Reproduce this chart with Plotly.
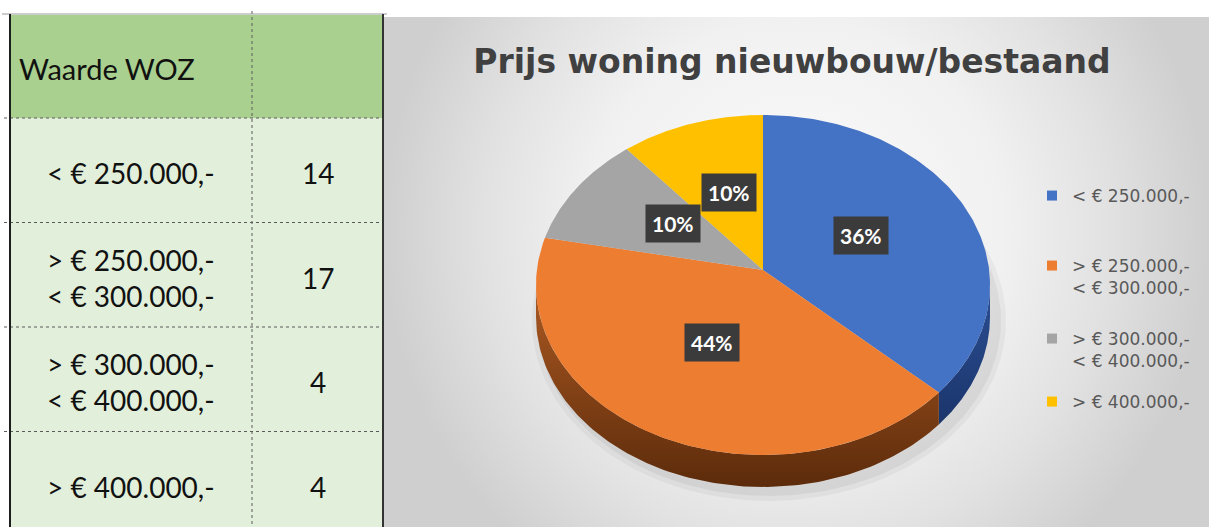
import numpy as np
import plotly.graph_objects as go

W, H = 1209, 527
OFF = 0                      # page margin removed through post_script below
FW, FH = W - OFF, H - OFF

# ---------------- data ----------------
table_header = ["Waarde WOZ", ""]
categories = [
    "< € 250.000,-",
    "> € 250.000,-<br>< € 300.000,-",
    "> € 300.000,-<br>< € 400.000,-",
    "> € 400.000,-",
]
counts = [14, 17, 4, 4]
slice_colors = ["#4472C4", "#ED7D31", "#A5A5A5", "#FFC000"]
side_colors = [["#2b4f93", "#14295a"], ["#ad5a22", "#5c2b0b"],
               ["#7b7b7b", "#505050"], ["#b48800", "#7a5c00"]]
title_text = "Prijs woning nieuwbouw/bestaand"

# ---------------- geometry / style ----------------
FONT = "Lato"
CHART_FONT = "DejaVu Sans"
TBL_L, TBL_R, TBL_MID, TBL_T = 10, 383, 252, 15
HEAD_H, ROW_H = 103, 104.5
CX, CY, RX, RY = 763, 285, 227, 170
APEX_Y = 270
DEPTH = 32
LBL_F = 0.48
BG_L, BG_T = 383, 17


def px(X):
    return (X - OFF) / FW


def py(Y):
    return 1 - (Y - OFF) / FH


def rim(t, dy=0.0):
    return CX + RX * np.sin(t), CY - RY * np.cos(t) + dy


fig = go.Figure()

# chart background with radial gradient (centre near the top middle)
GC_Y = 230
GR_Y = 420
fig.add_trace(go.Scatter(
    x=[BG_L, W, W, BG_L, BG_L], y=[GC_Y - GR_Y, GC_Y - GR_Y, GC_Y + GR_Y, GC_Y + GR_Y, GC_Y - GR_Y],
    mode="lines", fill="toself", line=dict(width=0),
    fillgradient=dict(type="radial",
                      colorscale=[[0, "#fbfbfb"], [0.5, "#f1f1f1"], [0.75, "#e2e2e2"], [1, "#cfcfcf"]]),
    hoverinfo="skip", showlegend=False))

# soft shadow under the pie
tt = np.linspace(0, 2 * np.pi, 200)
for grow, alpha in [(10, 0.04), (5, 0.05)]:
    sx = CX + 6 + (RX + grow) * np.sin(tt)
    sy = CY + DEPTH + 4 + (RY + grow) * np.cos(tt)
    fig.add_trace(go.Scatter(x=sx, y=sy, mode="lines", fill="toself", line=dict(width=0),
                             fillcolor=f"rgba(0,0,0,{alpha})", hoverinfo="skip", showlegend=False))

total = sum(counts)
fracs = [c / total for c in counts]
bounds = np.concatenate([[0], np.cumsum(fracs)]) * 2 * np.pi

# side walls (front half only)
for i in range(len(counts)):
    a = max(bounds[i], np.pi / 2)
    b = min(bounds[i + 1], 3 * np.pi / 2)
    if a >= b:
        continue
    ts = np.linspace(a, b, 120)
    x1, y1 = rim(ts)
    x2, y2 = rim(ts[::-1], DEPTH)
    xs = np.concatenate([x1, x2, x1[:1]])
    ys = np.concatenate([y1, y2, y1[:1]])
    fig.add_trace(go.Scatter(
        x=xs, y=ys, mode="lines", fill="toself", line=dict(width=0),
        fillgradient=dict(type="vertical", start=CY, stop=CY + RY + DEPTH,
                          colorscale=[[0, side_colors[i][0]], [1, side_colors[i][1]]]),
        hoverinfo="skip", showlegend=False))

# top faces
for i in range(len(counts)):
    ts = np.linspace(bounds[i], bounds[i + 1], 150)
    rx_, ry_ = rim(ts)
    xs = np.concatenate([[CX], rx_, [CX]])
    ys = np.concatenate([[APEX_Y], ry_, [APEX_Y]])
    fig.add_trace(go.Scatter(
        x=xs, y=ys, mode="lines", fill="toself", line=dict(width=0),
        fillcolor=slice_colors[i], hoverinfo="skip", showlegend=False))

annotations = []
# percentage labels
for i in range(len(counts)):
    m = (bounds[i] + bounds[i + 1]) / 2
    annotations.append(dict(
        x=CX + LBL_F * RX * np.sin(m), y=APEX_Y - LBL_F * RY * np.cos(m),
        xref="x", yref="y", showarrow=False,
        text=f"{round(fracs[i] * 100)}%",
        font=dict(family=FONT, size=21, color="white", weight="bold"),
        bgcolor="#3b3b3b", borderpad=6))

# legend entries, each in its own legend to mimic the spacing
legend_tops = [178, 248, 321, 384]
legend_names = ["legend", "legend2", "legend3", "legend4"]
for i, cat in enumerate(categories):
    fig.add_trace(go.Scatter(
        x=[None], y=[None], mode="markers", name=cat,
        marker=dict(symbol="square", size=10, color=slice_colors[i]),
        legend=legend_names[i], showlegend=True))

legend_style = dict(bgcolor="rgba(0,0,0,0)", font=dict(family=CHART_FONT, size=17, color="#595959"),
                    xanchor="left", yanchor="top", xref="paper", yref="paper",
                    valign="top", itemclick=False, itemdoubleclick=False)

# ---------------- table ----------------
shapes = []
n_rows = len(categories)
# white strip above the chart background
shapes.append(dict(type="rect", xref="x", yref="y", x0=BG_L, x1=W + 20, y0=-400, y1=BG_T,
                   fillcolor="white", line=dict(width=0), layer="above"))
shapes.append(dict(type="rect", xref="x", yref="y", x0=TBL_L, x1=TBL_R, y0=TBL_T, y1=TBL_T + HEAD_H,
                   fillcolor="#A9D08E", line=dict(width=0), layer="below"))
shapes.append(dict(type="rect", xref="x", yref="y", x0=TBL_L, x1=TBL_R, y0=TBL_T + HEAD_H, y1=H + 5,
                   fillcolor="#E2EFDA", line=dict(width=0), layer="below"))
for r in range(n_rows):
    yb = TBL_T + HEAD_H + r * ROW_H
    shapes.append(dict(type="line", xref="x", yref="y", x0=4, x1=TBL_R, y0=yb, y1=yb,
                       line=dict(color="#5a5a5a", width=1, dash="dot")))
shapes.append(dict(type="line", xref="x", yref="y", x0=TBL_MID, x1=TBL_MID, y0=11, y1=H,
                   line=dict(color="#5a5a5a", width=1, dash="dot")))
shapes.append(dict(type="line", xref="x", yref="y", x0=2, x1=TBL_R + 4, y0=TBL_T - 1, y1=TBL_T - 1,
                   line=dict(color="#9a9a9a", width=1)))
shapes.append(dict(type="line", xref="x", yref="y", x0=TBL_L, x1=TBL_L, y0=TBL_T - 1, y1=H,
                   line=dict(color="#1e1e1e", width=2)))
shapes.append(dict(type="line", xref="x", yref="y", x0=TBL_R, x1=TBL_R, y0=TBL_T - 1, y1=H,
                   line=dict(color="#333333", width=2)))

annotations.append(dict(x=TBL_L + 7, y=TBL_T + HEAD_H / 2 + 2, xref="x", yref="y", showarrow=False,
                        xanchor="left", yanchor="middle", text=table_header[0],
                        font=dict(family=FONT, size=29, color="#111111")))
for r in range(n_rows):
    yc = TBL_T + HEAD_H + (r + 0.5) * ROW_H + 3
    annotations.append(dict(x=(TBL_L + TBL_MID) / 2, y=yc, xref="x", yref="y", showarrow=False,
                            xanchor="center", yanchor="middle", text=categories[r],
                            font=dict(family=FONT, size=28, color="#111111")))
    annotations.append(dict(x=(TBL_MID + TBL_R) / 2, y=yc, xref="x", yref="y", showarrow=False,
                            xanchor="center", yanchor="middle", text=str(counts[r]),
                            font=dict(family=FONT, size=28, color="#111111")))

# legend background panel
shapes.append(dict(type="rect", xref="x", yref="y", x0=1030, x1=W + 5, y0=178, y1=440,
                   fillcolor="rgba(255,255,255,0.25)", line=dict(width=0), layer="below"))

layout_legends = {}
for i, name in enumerate(legend_names):
    layout_legends[name] = dict(legend_style, x=px(1032), y=py(legend_tops[i]))

fig.update_layout(
    width=FW, height=FH,
    margin=dict(l=0, r=0, t=0, b=0, autoexpand=False),
    paper_bgcolor="white", plot_bgcolor="rgba(0,0,0,0)",
    xaxis=dict(range=[OFF, W], visible=False, fixedrange=True),
    yaxis=dict(range=[H, OFF], visible=False, fixedrange=True),
    title=dict(text=title_text, x=px(792), xanchor="center", xref="paper",
               y=py(61), yanchor="middle", yref="container",
               font=dict(family=CHART_FONT, size=33, color="#404040", weight="bold")),
    annotations=annotations,
    shapes=shapes,
    **layout_legends,
)

fig.write_html(
    "out.html",
    config={"displayModeBar": False},
    post_script="document.body.style.margin='0';document.documentElement.style.overflow='hidden';",
)
